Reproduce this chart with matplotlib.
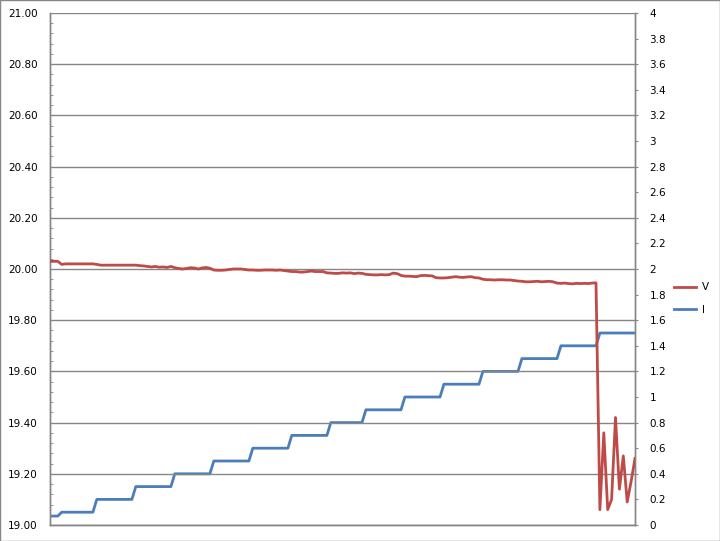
import numpy as np
import matplotlib
matplotlib.use("Agg")
import matplotlib.pyplot as plt
from matplotlib.patches import Rectangle
from matplotlib.ticker import MultipleLocator, FuncFormatter

# Voltage readings (left axis), one per sample
v_values = [
    20.03, 20.03, 20.03, 20.018,
    20.02, 20.02, 20.02, 20.02, 20.02, 20.02, 20.02, 20.02,
    20.018,
    20.015, 20.015, 20.015, 20.015, 20.015, 20.015, 20.015, 20.015, 20.015, 20.015,
    20.013, 20.012, 20.01, 20.008, 20.01, 20.007, 20.008, 20.006, 20.01, 20.005, 20.002, 20.0,
    20.002, 20.005, 20.004, 20.0, 20.004, 20.006, 20.003,
    19.996, 19.995, 19.995, 19.996, 19.998,
    20.0, 20.0, 20.0, 19.998,
    19.996, 19.996, 19.995, 19.995, 19.996, 19.996, 19.996, 19.995, 19.996, 19.994,
    19.992, 19.99, 19.99, 19.988, 19.988, 19.99, 19.992, 19.99, 19.99, 19.99,
    19.985, 19.984, 19.983, 19.983, 19.985, 19.984, 19.985, 19.982, 19.984, 19.983,
    19.979, 19.978, 19.977, 19.977, 19.978, 19.977, 19.978,
    19.984, 19.982,
    19.975, 19.972, 19.972, 19.971, 19.97,
    19.974, 19.975, 19.974, 19.973,
    19.966, 19.965, 19.965, 19.966,
    19.968, 19.97, 19.968, 19.967, 19.969, 19.97, 19.966, 19.965,
    19.96, 19.958, 19.958, 19.957, 19.958, 19.958, 19.957, 19.957, 19.955, 19.953, 19.952,
    19.95, 19.95, 19.951, 19.952, 19.95, 19.951, 19.952, 19.95,
    19.945, 19.944, 19.945, 19.943, 19.942,
    19.944, 19.943, 19.944, 19.943, 19.945, 19.946,
    19.06, 19.36, 19.06, 19.10, 19.42, 19.14, 19.27, 19.09, 19.17, 19.26,
]

# Current (right axis): step levels and how many samples each lasts
i_levels = [0.07, 0.1, 0.2, 0.3, 0.4, 0.5, 0.6, 0.7, 0.8, 0.9, 1.0, 1.1, 1.2, 1.3, 1.4, 1.5]
i_counts = [3, 9, 10, 10, 10, 10, 10, 10, 9, 10, 10, 10, 10, 10, 10, 10]
i_values = np.repeat(i_levels, i_counts)

x = np.arange(len(v_values))

red = "#BE4B48"
blue = "#4A7EBB"
grey = "#868686"

fig = plt.figure(figsize=(7.2, 5.41), dpi=100)
ax = fig.add_axes([50 / 720, 1 - 525 / 541, 585 / 720, 512 / 541])
ax2 = ax.twinx()

lv, = ax.plot(x, v_values, color=red, lw=2.0, solid_joinstyle="round", zorder=3)
li, = ax2.plot(x, i_values, color=blue, lw=2.0, solid_joinstyle="round", zorder=3)
ax.set_zorder(ax2.get_zorder() + 1)
ax.patch.set_visible(False)

ax.set_xlim(0, len(v_values) - 1)
ax.set_ylim(19, 21)
ax2.set_ylim(0, 4)

ax.yaxis.set_major_locator(MultipleLocator(0.2))
ax.yaxis.set_minor_locator(MultipleLocator(0.04))
ax.yaxis.set_major_formatter(FuncFormatter(lambda v, p: f"{v:.2f}"))
ax2.yaxis.set_major_locator(MultipleLocator(0.2))
ax2.yaxis.set_major_formatter(FuncFormatter(lambda v, p: f"{round(v, 1):g}"))

ax.grid(axis="y", which="major", color=grey, lw=1.0)
ax.set_xticks([])
ax.tick_params(axis="y", which="major", length=0, pad=9, labelsize=7.5, labelcolor="black")
ax.tick_params(axis="y", which="minor", direction="in", length=2.5, color=grey)
ax2.tick_params(axis="y", which="major", direction="out", length=2.5, color=grey,
                pad=8, labelsize=7.5, labelcolor="black")

for a in (ax, ax2):
    a.spines["top"].set_visible(False)
    for s in ("left", "right", "bottom"):
        a.spines[s].set_color(grey)
        a.spines[s].set_linewidth(1.0)

fig.legend([lv, li], ["V", "I"], loc="center", bbox_to_anchor=(0.96, 0.448),
           frameon=False, fontsize=7.5, handlelength=2.2, handletextpad=0.5,
           labelspacing=1.2)

fig.patches.append(Rectangle((0.0005, 0.0005), 0.999, 0.999, transform=fig.transFigure,
                             fill=False, edgecolor=grey, lw=1.0))

fig.savefig("out.png", dpi=100)
